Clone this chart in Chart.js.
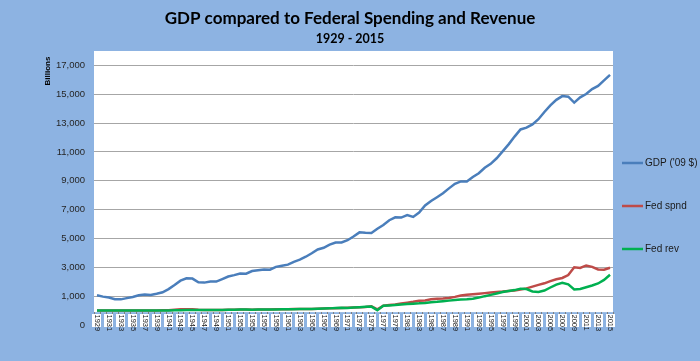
<!DOCTYPE html>
<html><head><meta charset="utf-8">
<script src="https://cdn.jsdelivr.net/npm/chart.js@4"></script>
<style>html,body{margin:0;padding:0;background:#8db3e2;}</style>
</head><body>
<canvas id="c" width="700" height="361"></canvas>
<script>
const years = ['1929','1930','1931','1932','1933','1934','1935','1936','1937','1938','1939',
'1940','1941','1942','1943','1944','1945','1946','1947','1948','1949',
'1950','1951','1952','1953','1954','1955','1956','1957','1958','1959',
'1960','1961','1962','1963','1964','1965','1966','1967','1968','1969',
'1970','1971','1972','1973','1974','1975','1976','1977','1978','1979',
'1980','1981','1982','1983','1984','1985','1986','1987','1988','1989',
'1990','1991','1992','1993','1994','1995','1996','1997','1998','1999',
'2000','2001','2002','2003','2004','2005','2006','2007','2008','2009',
'2010','2011','2012','2013','2014','2015'];

const gdp = [1057,967,905,788,778,862,939,1061,1115,1078,1164,
1266,1490,1772,2074,2239,2218,1961,1939,2020,2009,
2184,2360,2456,2571,2557,2739,2797,2856,2835,3031,
3109,3188,3383,3530,3734,3977,4239,4355,4569,4713,
4722,4878,5134,5424,5396,5385,5675,5937,6267,6466,
6450,6618,6491,6792,7285,7594,7861,8133,8475,8786,
8955,8948,9267,9521,9905,10175,10561,11035,11526,12066,
12560,12682,12909,13271,13774,14234,14614,14874,14830,14419,
14784,15021,15355,15583,15962,16349];

const fedSpnd = [5,5,6,7,7,10,10,12,12,11,13,
15,25,60,85,95,95,60,40,35,40,
42,50,65,72,68,66,70,75,80,88,
90,95,102,106,112,115,128,145,160,168,
180,195,212,228,250,300,90,340,380,420,
490,550,610,680,700,780,820,830,870,950,
1040,1090,1130,1170,1210,1250,1290,1320,1360,1400,
1460,1540,1660,1780,1890,2040,2170,2260,2460,3000,
2960,3130,3030,2850,2830,2970];

const fedRev = [4,4,3,2,2,3,4,4,5,6,6,
7,9,15,24,43,45,39,38,42,39,
39,52,66,70,70,65,75,80,80,79,
92,94,100,107,113,117,131,149,153,187,
193,187,207,231,263,279,30,330,360,390,
420,450,480,500,530,580,610,650,690,730,
760,780,820,900,1000,1090,1190,1290,1360,1420,
1520,1490,1330,1290,1390,1600,1800,1930,1820,1470,
1500,1620,1740,1880,2130,2480];

const seriesNames = ["GDP ('09 $)", 'Fed spnd', 'Fed rev'];
const seriesColors = ['#4a7ebb', '#be4b48', '#00b050'];
const yTickValues = [-1000,1000,3000,5000,7000,9000,11000,13000,15000,17000];

const deco = {
  id: 'deco',
  beforeDraw(chart) {
    const {ctx, chartArea: a, scales: {y}} = chart;
    ctx.save();
    ctx.fillStyle = '#8db3e2';
    ctx.fillRect(0, 0, chart.width, chart.height);
    ctx.fillStyle = '#ffffff';
    const b = y.getPixelForValue(-110);
    ctx.fillRect(a.left, a.top, a.right - a.left, b - a.top);
    ctx.restore();
  },
  afterDraw(chart) {
    const {ctx, chartArea: a, scales: {x, y}} = chart;
    const b = Math.round(y.getPixelForValue(-110));
    const half = (x.getPixelForValue(1) - x.getPixelForValue(0)) / 2;
    ctx.save();
    ctx.strokeStyle = '#7f7f7f';
    ctx.lineWidth = 1;
    for (let i = 0; i <= years.length; i++) {
      const px = Math.round(x.getPixelForValue(i) - half) + 0.5;
      ctx.beginPath(); ctx.moveTo(px, b); ctx.lineTo(px, b + 3); ctx.stroke();
    }
    ctx.font = '7.5px "Liberation Sans Narrow", "Liberation Sans", sans-serif';
    for (let i = 0; i < years.length; i += 2) {
      const px = x.getPixelForValue(i);
      ctx.fillStyle = '#ffffff';
      ctx.fillRect(Math.round(px - 4.5), b + 2, 9, 13);
      ctx.save();
      ctx.translate(px, b + 2.5);
      ctx.rotate(Math.PI / 2);
      ctx.fillStyle = '#1a1a1a';
      ctx.textAlign = 'left';
      ctx.textBaseline = 'middle';
      ctx.fillText(years[i], 0, 0);
      ctx.restore();
    }
    ctx.save();
    ctx.translate(48, 71);
    ctx.rotate(-Math.PI / 2);
    ctx.font = 'bold 8px "Liberation Sans", sans-serif';
    ctx.fillStyle = '#000';
    ctx.textAlign = 'center';
    ctx.textBaseline = 'middle';
    ctx.fillText('Billions', 0, 0);
    ctx.restore();
    const ly = [163, 206, 249];
    ctx.font = '10px "Liberation Sans", sans-serif';
    ctx.textBaseline = 'middle';
    ctx.textAlign = 'left';
    for (let k = 0; k < 3; k++) {
      ctx.strokeStyle = seriesColors[k];
      ctx.lineWidth = 2.5;
      ctx.beginPath(); ctx.moveTo(622, ly[k]); ctx.lineTo(643, ly[k]); ctx.stroke();
      ctx.fillStyle = '#1a1a1a';
      ctx.fillText(seriesNames[k], 645, ly[k]);
    }
    ctx.restore();
  }
};

new Chart(document.getElementById('c'), {
  type: 'line',
  data: {
    labels: years,
    datasets: [
      {label: seriesNames[0], data: gdp, borderColor: seriesColors[0], order: 2},
      {label: seriesNames[1], data: fedSpnd, borderColor: seriesColors[1], order: 1},
      {label: seriesNames[2], data: fedRev, borderColor: seriesColors[2], order: 0}
    ]
  },
  options: {
    responsive: false,
    animation: false,
    devicePixelRatio: 1,
    elements: {
      line: {borderWidth: 2.5, tension: 0, fill: false},
      point: {radius: 0}
    },
    layout: {padding: {left: 0, right: 0, top: 0, bottom: 36}},
    plugins: {
      legend: {display: false},
      tooltip: {enabled: false},
      title: {
        display: true,
        text: 'GDP compared to Federal Spending and Revenue',
        color: '#000',
        font: {family: 'Lato', size: 17, weight: 'bold'},
        padding: {top: 8, bottom: 3.4}
      },
      subtitle: {
        display: true,
        text: '1929 - 2015',
        color: '#000',
        font: {family: 'Lato', size: 12.5, weight: 'bold'},
        padding: {top: 0, bottom: 4.2}
      }
    },
    scales: {
      x: {display: false, offset: true},
      y: {
        min: -1000,
        max: 18000,
        afterBuildTicks: s => { s.ticks = yTickValues.map(v => ({value: v})); },
        afterFit: s => { s.width = 94; },
        border: {display: false},
        grid: {
          drawTicks: false,
          lineWidth: 1,
          color: c => (c.tick && c.tick.value < 0) ? 'rgba(0,0,0,0)' : '#a6a6a6'
        },
        ticks: {
          padding: 9,
          color: '#262626',
          font: {family: 'Liberation Sans', size: 9.5},
          callback: v => v < 0 ? '0' : Number(v).toLocaleString('en-US')
        }
      },
      yRight: {
        position: 'right',
        display: true,
        min: 0,
        max: 1,
        grid: {display: false, drawTicks: false},
        border: {display: false},
        ticks: {display: false},
        afterFit: s => { s.width = 87; }
      }
    }
  },
  plugins: [deco]
});
</script>
</body></html>
